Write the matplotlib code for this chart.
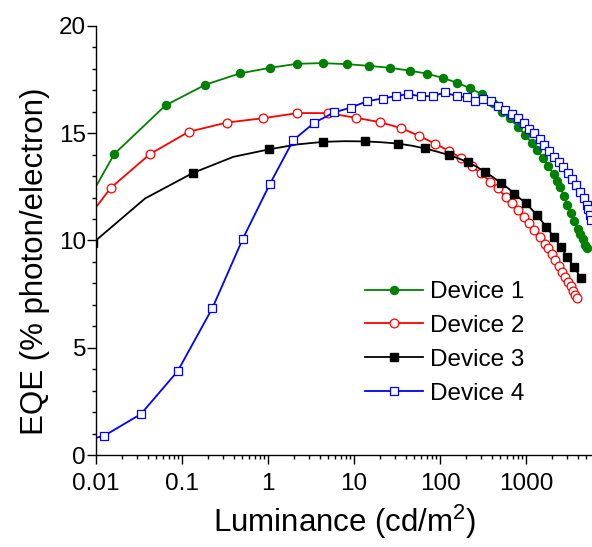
"""EQE versus luminance for four OLED devices."""

import matplotlib

matplotlib.use("Agg")
import matplotlib.pyplot as plt
from matplotlib.ticker import FixedLocator, LogLocator, MultipleLocator, NullFormatter

plt.rcParams["font.family"] = ["Liberation Sans", "DejaVu Sans"]
plt.rcParams["mathtext.fontset"] = "custom"
plt.rcParams["mathtext.rm"] = "Liberation Sans"

GREEN = "#008000"
RED = "#FF0000"
BLACK = "#000000"
BLUE = "#0000FF"

# luminance in cd/m2, EQE in % photon/electron
dev1_lum = [0.0063, 0.0163, 0.0643, 0.186, 0.470, 1.05, 2.20, 4.32, 8.32, 15.1,
            26.4, 44.2, 70.3, 108, 159, 224, 309, 417, 525, 646, 813, 977, 1175,
            1349, 1585, 1820, 2089, 2291, 2512, 2754, 3020, 3311, 3631, 3981,
            4266, 4571, 4898, 5129]
dev1_eqe = [11.1, 14.03, 16.30, 17.26, 17.79, 18.05, 18.24, 18.27, 18.22, 18.14,
            18.05, 17.92, 17.78, 17.58, 17.35, 17.10, 16.81, 16.39, 16.0, 15.69,
            15.30, 14.91, 14.55, 14.21, 13.83, 13.47, 13.08, 12.78, 12.48, 12.08,
            11.66, 11.29, 10.92, 10.55, 10.30, 10.05, 9.80, 9.63]

dev2_lum = [0.0063, 0.0149, 0.0424, 0.120, 0.333, 0.873, 2.20, 4.99, 10.5, 19.9,
            35.2, 57.0, 86.5, 127, 177, 233, 298, 385, 469, 578, 693, 807, 946,
            1091, 1253, 1436, 1644, 1820, 1995, 2188, 2399, 2600, 2818, 3090,
            3311, 3548, 3758, 3954]
dev2_eqe = [10.5, 12.46, 14.03, 15.07, 15.50, 15.70, 15.94, 15.94, 15.72, 15.52,
            15.24, 14.88, 14.52, 14.18, 13.83, 13.47, 13.13, 12.74, 12.43, 12.04,
            11.73, 11.42, 11.10, 10.80, 10.48, 10.17, 9.86, 9.63, 9.36, 9.09,
            8.80, 8.54, 8.32, 8.08, 7.86, 7.64, 7.48, 7.33]

dev3_lum = [0.0093, 0.0372, 0.134, 0.395, 1.03, 2.19, 4.40, 7.76, 13.4, 20.9,
            32.2, 46.8, 67.0, 93.3, 127, 166, 214, 269, 333, 417, 508, 617, 731,
            851, 1000, 1161, 1330, 1514, 1710, 1905, 2118, 2344, 2553, 2786,
            3027, 3311, 3648, 3981, 4325]
dev3_eqe = [9.9, 11.96, 13.15, 13.90, 14.25, 14.48, 14.60, 14.63, 14.62, 14.58,
            14.52, 14.42, 14.29, 14.14, 13.98, 13.82, 13.64, 13.43, 13.20, 12.94,
            12.69, 12.44, 12.19, 11.96, 11.73, 11.46, 11.18, 10.92, 10.64, 10.40,
            10.14, 9.91, 9.68, 9.45, 9.21, 8.98, 8.75, 8.50, 8.23]

dev4_lum = [0.0063, 0.0125, 0.0333, 0.0891, 0.225, 0.508, 1.05, 1.97, 3.45, 5.85,
            9.23, 14.3, 21.6, 30.8, 42.9, 59.7, 82.2, 114, 156, 204, 255, 318,
            392, 478, 573, 687, 809, 946, 1084, 1239, 1436, 1629, 1866, 2123,
            2404, 2710, 3048, 3396, 3793, 4227, 4677, 5117, 5309, 5495, 5649]
dev4_eqe = [0.6, 0.90, 1.91, 3.91, 6.84, 10.07, 12.63, 14.68, 15.49, 15.97,
            16.20, 16.50, 16.62, 16.74, 16.82, 16.73, 16.73, 16.90, 16.73, 16.67,
            16.51, 16.59, 16.51, 16.28, 16.08, 15.90, 15.69, 15.46, 15.22, 14.99,
            14.72, 14.45, 14.18, 13.90, 13.67, 13.41, 13.13, 12.85, 12.58, 12.27,
            11.96, 11.65, 11.45, 11.20, 10.95]

labels = ["Device 1", "Device 2", "Device 3", "Device 4"]
x_ticks = [0.01, 0.1, 1, 10, 100, 1000]
x_tick_labels = ["0.01", "0.1", "1", "10", "100", "1000"]


def main() -> None:
    fig = plt.figure(figsize=(5.92, 5.47), dpi=100)
    ax = fig.add_axes([96 / 592, 92 / 547, 496 / 592, 429 / 547])

    ax.plot(dev1_lum, dev1_eqe, color=GREEN, lw=1.3, marker="o", ms=5.8,
            mfc=GREEN, mec=GREEN, label=labels[0])
    ax.plot(dev2_lum, dev2_eqe, color=RED, lw=1.3, marker="o", ms=6.3,
            mfc="white", mec=RED, mew=0.9, label=labels[1])
    # only every other point carries a marker on this curve
    ax.plot(dev3_lum, dev3_eqe, color=BLACK, lw=1.3, marker="s", ms=5.4,
            mfc=BLACK, mec=BLACK, markevery=(0, 2), label=labels[2])
    ax.plot(dev4_lum, dev4_eqe, color=BLUE, lw=1.3, marker="s", ms=5.4,
            mfc="white", mec=BLUE, mew=0.9, label=labels[3])

    ax.set_xscale("log")
    ax.set_xlim(0.01, 5850)
    ax.set_ylim(0, 20)

    ax.xaxis.set_major_locator(FixedLocator(x_ticks))
    ax.set_xticklabels(x_tick_labels)
    ax.xaxis.set_minor_locator(LogLocator(base=10, subs=range(2, 10), numticks=20))
    ax.xaxis.set_minor_formatter(NullFormatter())
    ax.yaxis.set_major_locator(MultipleLocator(5))
    ax.yaxis.set_minor_locator(MultipleLocator(1))

    for side in ("top", "right"):
        ax.spines[side].set_visible(False)
    for side in ("left", "bottom"):
        ax.spines[side].set_linewidth(1.0)

    ax.tick_params(which="both", direction="out", width=1.0, labelsize=17.5)
    ax.tick_params(which="major", length=6.2)
    ax.tick_params(which="minor", length=3.1)
    ax.tick_params(axis="y", pad=1)
    ax.tick_params(axis="x", pad=6.5)

    ax.set_xlabel(r"Luminance (cd/m$^{2}$)", fontsize=22.5)
    ax.xaxis.set_label_coords(0.502, -0.112)
    ax.set_ylabel("EQE (% photon/electron)", fontsize=22.5)
    ax.yaxis.set_label_coords(-0.093, 0.452)

    ax.legend(loc="upper left", bbox_to_anchor=(365 / 592, 1 - 281 / 547),
              bbox_transform=fig.transFigure, frameon=False, fontsize=17.5,
              numpoints=1, handlelength=2.37, handletextpad=0.3,
              labelspacing=0.49, borderpad=0, borderaxespad=0)

    fig.savefig("out.png", dpi=100)
    plt.close(fig)


if __name__ == "__main__":
    main()
